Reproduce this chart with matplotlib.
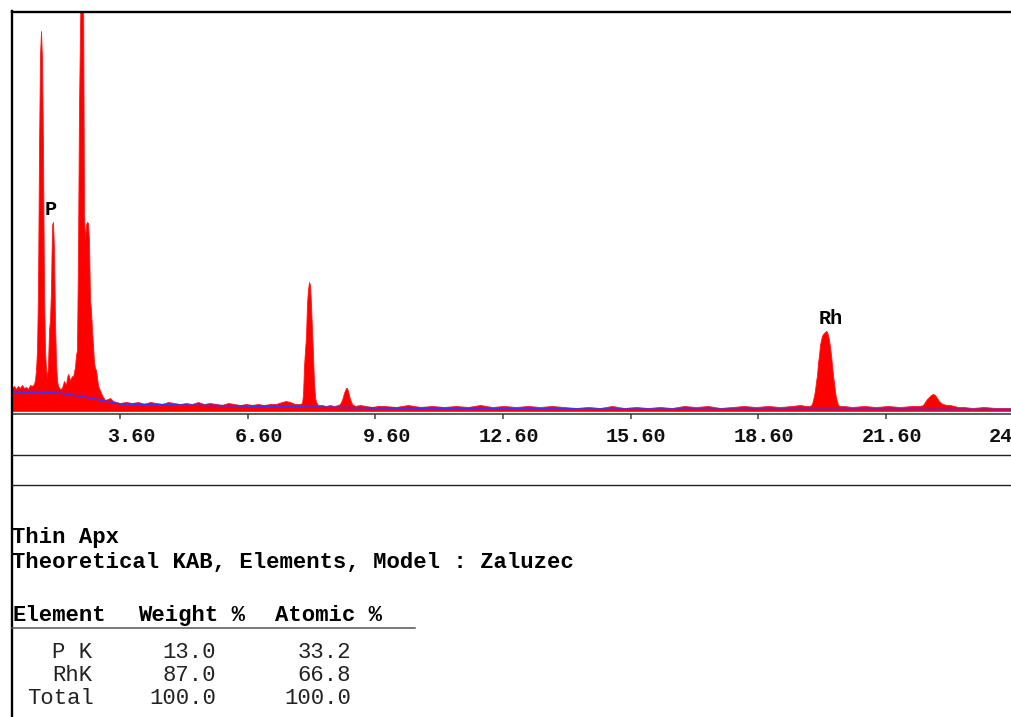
import matplotlib
matplotlib.use("Agg")
import matplotlib.pyplot as plt
from matplotlib.lines import Line2D
from matplotlib.transforms import blended_transform_factory, ScaledTranslation

plt.rcParams['font.family'] = ['Liberation Mono', 'DejaVu Sans Mono']

# ---- EDS spectrum (energy in keV, counts) ----
energy_kev = [
    1.062, 1.109, 1.156, 1.203, 1.250, 1.297, 1.344, 1.391, 1.438, 1.485, 1.532, 1.579,
    # Si K
    1.603, 1.626, 1.650, 1.673, 1.697, 1.720, 1.744, 1.767, 1.791, 1.814, 1.838, 1.861, 1.884,
    # P K
    1.908, 1.932, 1.955, 1.978, 2.002, 2.025, 2.049, 2.072, 2.096, 2.119, 2.143,
    2.190, 2.237, 2.284, 2.331, 2.354, 2.378, 2.401, 2.425, 2.448, 2.472, 2.495,
    # Rh L
    2.519, 2.542, 2.566, 2.589, 2.613, 2.636, 2.660, 2.683, 2.707, 2.730, 2.754, 2.777,
    2.801, 2.824, 2.848, 2.871, 2.895, 2.918, 2.942, 2.965, 2.989, 3.012, 3.036, 3.083,
    3.106, 3.153, 3.200, 3.247, 3.318, 3.365, 3.435, 3.506,
    # continuum
    3.600, 3.741, 3.882, 4.023, 4.164, 4.305, 4.446, 4.587, 4.728, 4.869, 5.010, 5.151,
    5.292, 5.433, 5.574, 5.715, 5.856, 5.997, 6.138, 6.279, 6.420, 6.560, 6.701, 6.842,
    6.983, 7.124, 7.265, 7.406, 7.500, 7.594, 7.712, 7.829,
    # Cu K-alpha
    7.876, 7.900, 7.923, 7.947, 7.970, 7.994, 8.017, 8.041, 8.064, 8.088, 8.111, 8.135,
    8.158, 8.182, 8.205, 8.252, 8.346, 8.440, 8.534, 8.628, 8.722,
    # Cu K-beta
    8.769, 8.816, 8.863, 8.910, 8.934, 8.957, 9.004, 9.051, 9.122, 9.239, 9.380, 9.521,
    9.662,
    # continuum
    9.803, 10.085, 10.367, 10.649, 10.931, 11.213, 11.495, 11.777, 12.059, 12.341,
    12.622, 12.904, 13.186, 13.468, 13.750, 14.032, 14.314, 14.596, 14.878, 15.160,
    15.442, 15.724, 16.006, 16.288, 16.570, 16.852, 17.134, 17.416, 17.698, 17.979,
    18.261, 18.543, 18.825, 19.107, 19.389, 19.577, 19.718,
    # Rh K-alpha
    19.812, 19.859, 19.906, 19.930, 19.953, 19.977, 20.000, 20.024, 20.047, 20.071,
    20.094, 20.118, 20.141, 20.165, 20.188, 20.212, 20.235, 20.259, 20.282, 20.306,
    20.329, 20.353, 20.376, 20.400, 20.423, 20.447, 20.470, 20.517, 20.611,
    20.799, 21.081, 21.363, 21.645, 21.927, 22.209, 22.397,
    # Rh K-beta
    22.467, 22.514, 22.561, 22.608, 22.655, 22.702, 22.749, 22.796, 22.843, 22.890,
    22.937, 23.008, 23.102, 23.196, 23.290, 23.431, 23.619, 23.901, 24.183, 24.535,
]
counts = [
    230, 250, 220, 250, 230, 260, 230, 240, 220, 260, 250, 270,
    310, 410, 610, 1210, 2610, 3560, 3800, 3510, 2610, 1210, 610, 410, 340,
    460, 810, 910, 1210, 1860, 1890, 1610, 910, 490, 310, 250,
    220, 230, 300, 260, 330, 370, 350, 300, 330, 350, 340,
    390, 440, 560, 610, 1580, 3010, 3810, 4500, 4500, 4500, 1960, 1710,
    1860, 1890, 1880, 1710, 1110, 1010, 810, 660, 490, 430, 410, 260,
    230, 180, 140, 110, 120, 130, 100, 90,
    80, 90, 80, 90, 70, 90, 80, 70, 90, 80, 70, 80,
    70, 90, 70, 80, 70, 60, 80, 70, 60, 70, 60, 70,
    60, 70, 70, 90, 100, 90, 70, 70,
    80, 160, 440, 610, 740, 1080, 1210, 1290, 1260, 1060, 810, 560,
    280, 140, 90, 60, 60, 50, 60, 50, 60,
    70, 110, 180, 230, 230, 200, 120, 70, 50, 60, 50, 40,
    50,
    50, 40, 60, 40, 50, 40, 50, 40, 60, 40,
    50, 40, 50, 40, 50, 40, 30, 40, 30, 50,
    30, 40, 30, 40, 30, 50, 40, 50, 30, 40,
    50, 40, 50, 40, 50, 60, 50,
    50, 70, 150, 210, 290, 360, 480, 560, 660, 710,
    750, 770, 780, 790, 800, 790, 760, 710, 640, 560,
    460, 360, 280, 200, 130, 100, 60, 50, 50,
    40, 50, 40, 50, 40, 50, 50,
    60, 90, 120, 140, 160, 170, 160, 130, 100, 80,
    70, 60, 60, 50, 40, 40, 30, 40, 30, 30,
]

# Fitted background curve
bg_energy = [1.062, 1.720, 2.190, 2.895, 3.600, 5.010, 6.560, 9.591, 14.878, 24.535]
bg_counts = [190, 185, 180, 130, 70, 60, 50, 30, 20, 15]

peak_labels = ["P", "Rh"]
peak_label_pos = [(1.974, 2013), (20.294, 920)]

tick_values = [3.60, 6.60, 9.60, 12.60, 15.60, 18.60, 21.60, 24.60]

header = ["Thin Apx", "Theoretical KAB, Elements, Model : Zaluzec"]
columns = ["Element", "Weight %", "Atomic %"]
elements = ["P K", "RhK"]
weight_pct = [13.0, 87.0]
atomic_pct = [33.2, 66.8]

# ---- figure layout (pixel helpers) ----
W, H = 1011, 717
fig = plt.figure(figsize=(W / 100, H / 100), dpi=100)
fig.patch.set_facecolor("white")


def fx(x):
    return x / W


def fy(y):
    return 1 - y / H


ax = fig.add_axes([fx(12), fy(411), fx(1011) - fx(12), fy(12) - fy(411)])
ax.set_xlim(1.062, 24.535)
ax.set_ylim(0, 3990)
ax.fill_between(energy_kev, counts, 0, color="#ff0000", linewidth=0.6,
                edgecolor="#ff1a1a", clip_on=True)
ax.plot(bg_energy, bg_counts, color="#3c32ff", linewidth=1.2)

for lab, (e, c) in zip(peak_labels, peak_label_pos):
    ax.text(e, c, lab, ha="center", va="center", fontsize=14.5, fontweight="bold",
            color="black")

for s in ["top", "left", "right"]:
    ax.spines[s].set_visible(False)
ax.spines["bottom"].set_position(("outward", 2.2))
ax.spines["bottom"].set_color("#333333")
ax.spines["bottom"].set_linewidth(1.1)
ax.set_yticks([])
ax.set_xticks([t for t in tick_values if t < 24.535])
ax.tick_params(axis="x", direction="out", length=3.8, width=1.1, color="#444444",
               labelbottom=False)

lab_tr = blended_transform_factory(ax.transData, fig.transFigure) + \
    ScaledTranslation(36 / 100, 0, fig.dpi_scale_trans)
for t in tick_values:
    ax.text(t, fy(436), f"{t:.2f}", transform=lab_tr, ha="right", va="center",
            fontsize=14.5, fontweight="bold", color="#111111", clip_on=False)

# frame and separator lines
fig.add_artist(Line2D([fx(12), fx(1011)], [fy(12), fy(12)], color="black", lw=1.7))
fig.add_artist(Line2D([fx(12), fx(12)], [fy(11), fy(717)], color="black", lw=1.7))
fig.add_artist(Line2D([fx(12), fx(1011)], [fy(455), fy(455)], color="#222222", lw=1.0))
fig.add_artist(Line2D([fx(12), fx(1011)], [fy(485), fy(485)], color="#222222", lw=1.0))

# quantification report
fs = 16
fig.text(fx(12), fy(543), header[0], fontsize=fs, fontweight="bold",
         va="baseline", ha="left")
fig.text(fx(12), fy(568), header[1], fontsize=fs, fontweight="bold",
         va="baseline", ha="left")

col_x = [12, 138, 275]
for x, name in zip(col_x, columns):
    fig.text(fx(x), fy(621), name, fontsize=fs, fontweight="bold",
             va="baseline", ha="left")
fig.add_artist(Line2D([fx(12), fx(415)], [fy(627.5), fy(627.5)],
                      color="#555555", lw=1.1))

rows = elements + ["Total"]
row_w = weight_pct + [sum(weight_pct)]
row_a = atomic_pct + [sum(atomic_pct)]
row_base = [658, 681, 704]
for name, w, a, yb in zip(rows, row_w, row_a, row_base):
    xl = 27 if name == "Total" else 52
    fig.text(fx(xl), fy(yb), name, fontsize=fs, va="baseline", ha="left",
             color="#222222")
    fig.text(fx(216), fy(yb), f"{w:.1f}", fontsize=fs, va="baseline",
             ha="right", color="#222222")
    fig.text(fx(351), fy(yb), f"{a:.1f}", fontsize=fs, va="baseline",
             ha="right", color="#222222")

fig.savefig("out.png", dpi=100, facecolor="white")
